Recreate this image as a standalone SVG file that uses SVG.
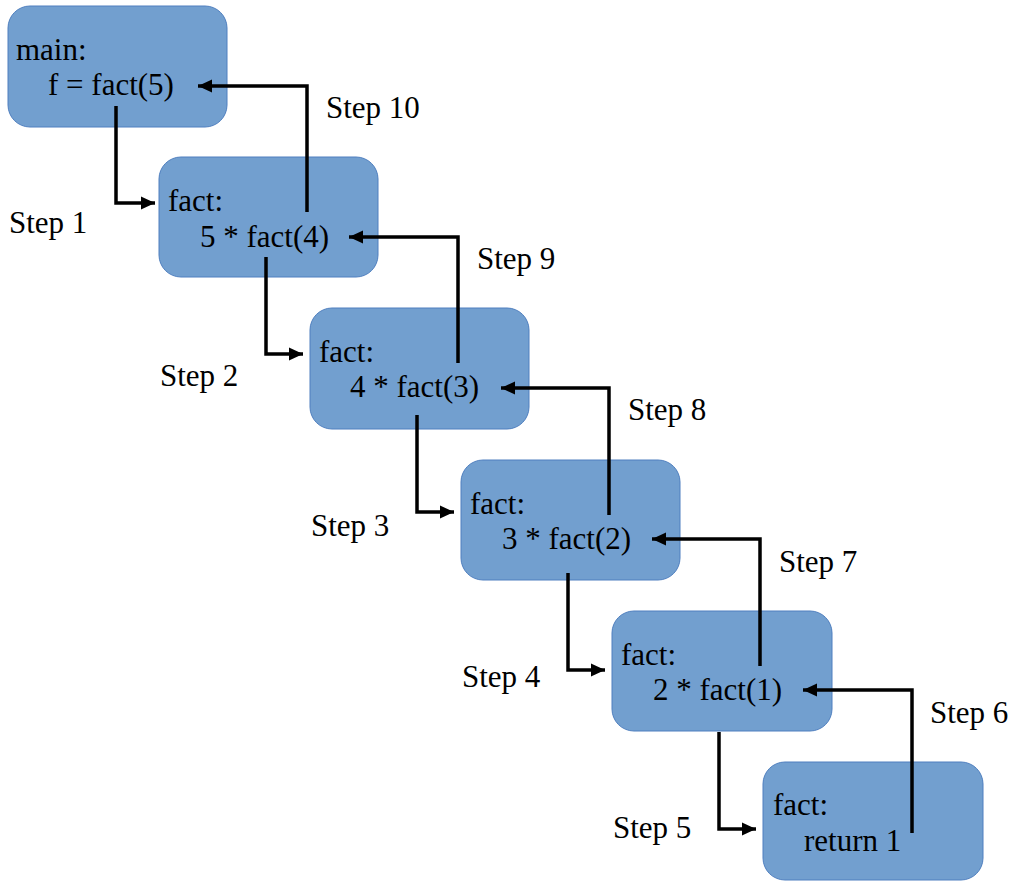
<svg xmlns="http://www.w3.org/2000/svg" width="1018" height="882" viewBox="0 0 1018 882">
<style>
.box{fill:#729fcf;stroke:#4f7fbf;stroke-width:1}
text{font-family:'Liberation Serif','Times New Roman',Times,serif;font-size:31px;fill:#000}
.c{fill:none;stroke:#000;stroke-width:3.5;stroke-linejoin:miter}
</style>
<defs>
<marker id="ah" markerUnits="userSpaceOnUse" markerWidth="16" markerHeight="16" viewBox="0 0 16 16" refX="14" refY="8" orient="auto">
<path d="M0,1.5 L14,8 L0,14.5 Z" fill="#000"/>
</marker>
</defs>
<rect width="1018" height="882" fill="#fff"/>
<g id="n1"><rect class="box" x="8" y="6" width="219" height="121" rx="22"/><text x="16" y="60">main:</text><text x="48" y="95">f = fact(5)</text></g>
<g id="n2"><rect class="box" x="159" y="157" width="219" height="120" rx="22"/><text x="168" y="211">fact:</text><text x="200" y="247">5 * fact(4)</text></g>
<g id="n3"><rect class="box" x="310" y="308" width="219" height="121" rx="22"/><text x="319" y="362">fact:</text><text x="350" y="397">4 * fact(3)</text></g>
<g id="n4"><rect class="box" x="461" y="460" width="219" height="120" rx="22"/><text x="470" y="514">fact:</text><text x="502" y="549">3 * fact(2)</text></g>
<g id="n5"><rect class="box" x="612" y="611" width="220" height="120" rx="22"/><text x="621" y="665">fact:</text><text x="653" y="700">2 * fact(1)</text></g>
<g id="n6"><rect class="box" x="763" y="762" width="220" height="118" rx="22"/><text x="773" y="815">fact:</text><text x="804" y="851">return 1</text></g>
<g id="connectors">
<path class="c" d="M116,106 V203 H155" marker-end="url(#ah)"/>
<path class="c" d="M266,257 V354 H303" marker-end="url(#ah)"/>
<path class="c" d="M417,415 V512 H454" marker-end="url(#ah)"/>
<path class="c" d="M568,573 V670 H605" marker-end="url(#ah)"/>
<path class="c" d="M719,732 V829 H756" marker-end="url(#ah)"/>
<path class="c" d="M307,212 V86 H198" marker-end="url(#ah)"/>
<path class="c" d="M458,363 V237 H349" marker-end="url(#ah)"/>
<path class="c" d="M609,515 V388 H501" marker-end="url(#ah)"/>
<path class="c" d="M760,666 V539 H652" marker-end="url(#ah)"/>
<path class="c" d="M912,833 V690 H803" marker-end="url(#ah)"/>
</g>
<g id="labels">
<text x="9" y="233">Step 1</text>
<text x="160" y="386">Step 2</text>
<text x="311" y="536">Step 3</text>
<text x="462" y="687">Step 4</text>
<text x="613" y="838">Step 5</text>
<text x="930" y="723">Step 6</text>
<text x="779" y="572">Step 7</text>
<text x="628" y="420">Step 8</text>
<text x="477" y="269">Step 9</text>
<text x="326" y="118">Step 10</text>
</g>
</svg>
